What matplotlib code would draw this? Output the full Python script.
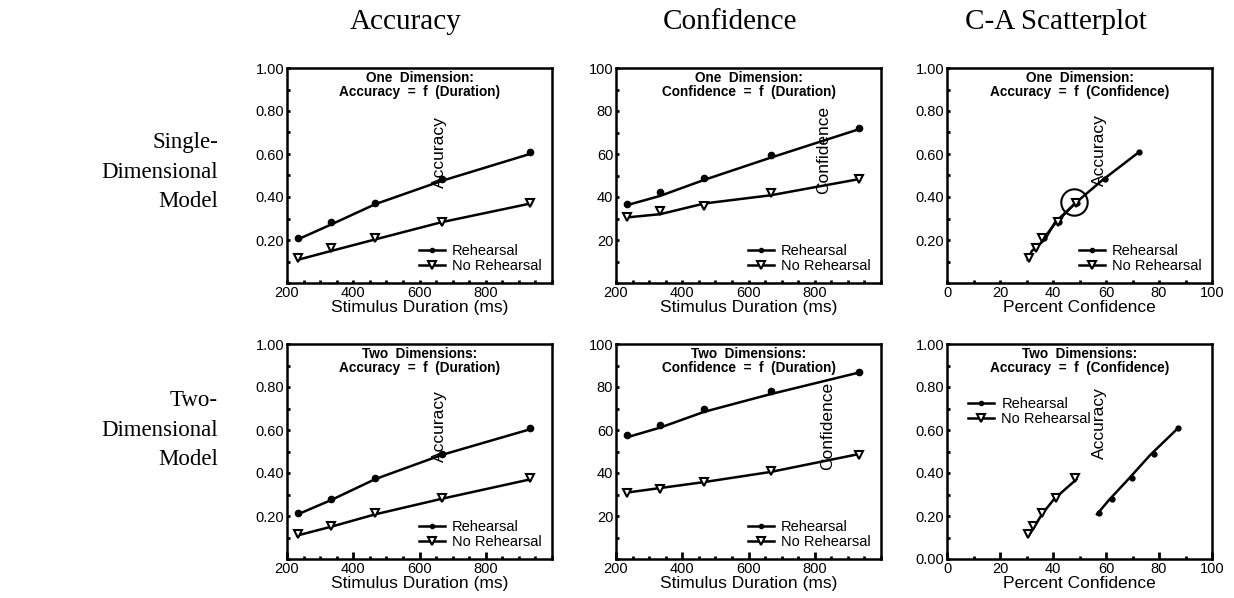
import numpy as np
import matplotlib.pyplot as plt
from matplotlib.ticker import MultipleLocator, FormatStrFormatter
from matplotlib.lines import Line2D

plt.rcParams['font.family'] = ['Liberation Sans', 'DejaVu Sans']

# stimulus durations (ms)
durations = [233, 333, 467, 667, 933]

# one-dimensional model
acc1_reh = [0.208, 0.285, 0.374, 0.485, 0.610]
acc1_reh_fit = [0.203, 0.272, 0.367, 0.475, 0.600]
acc1_noreh = [0.115, 0.165, 0.208, 0.285, 0.374]
acc1_noreh_fit = [0.108, 0.149, 0.203, 0.283, 0.369]
conf1_reh = [36.6, 42.3, 48.9, 59.5, 72.3]
conf1_reh_fit = [36.2, 40.5, 48.0, 58.3, 71.5]
conf1_noreh = [30.8, 33.5, 35.7, 42.0, 48.5]
conf1_noreh_fit = [30.5, 32.0, 37.0, 40.8, 48.3]

# two-dimensional model
acc2_reh = [0.215, 0.278, 0.375, 0.488, 0.611]
acc2_reh_fit = [0.208, 0.274, 0.372, 0.484, 0.603]
acc2_noreh = [0.115, 0.153, 0.212, 0.282, 0.375]
acc2_noreh_fit = [0.110, 0.150, 0.208, 0.280, 0.370]
conf2_reh = [57.5, 62.3, 69.9, 78.1, 87.1]
conf2_reh_fit = [56.6, 61.1, 68.5, 76.7, 86.7]
conf2_noreh = [30.5, 32.4, 36.0, 41.1, 48.4]
conf2_noreh_fit = [30.9, 33.0, 35.8, 40.5, 48.8]

# highlighted point in the one-dimension scatterplot
circle_xy = (48.0, 0.377)

col_titles = ['Accuracy', 'Confidence', 'C-A Scatterplot']
row_titles = ['Single-\nDimensional\nModel', 'Two-\nDimensional\nModel']
panel_titles = [['One  Dimension:\nAccuracy  =  f  (Duration)',
                 'One  Dimension:\nConfidence  =  f  (Duration)',
                 'One  Dimension:\nAccuracy  =  f  (Confidence)'],
                ['Two  Dimensions:\nAccuracy  =  f  (Duration)',
                 'Two  Dimensions:\nConfidence  =  f  (Duration)',
                 'Two  Dimensions:\nAccuracy  =  f  (Confidence)']]
labels = ['Rehearsal', 'No Rehearsal']

W, H = 1234, 598
fig = plt.figure(figsize=(W / 100, H / 100), dpi=100)

def add_ax(l, t, r, b):
    return fig.add_axes([l / W, 1 - b / H, (r - l) / W, (b - t) / H])

lefts = [287, 616, 947]
rows = [(68, 283), (344, 559)]

reh_style = dict(color='black', lw=1.8, marker='o', ms=3, mfc='black', mec='black')
noreh_style = dict(color='black', lw=1.8, marker='v', ms=6, mfc='white', mec='black', mew=1.5)
tri = dict(ls='none', marker='v', ms=6, mfc='white', mec='black', mew=1.5)

def style(ax, xkind, ykind, row, show_zero=False):
    for s in ax.spines.values():
        s.set_linewidth(1.8)
    if xkind == 'dur':
        ax.set_xlim(200, 1000)
        ax.set_xticks([200, 400, 600, 800])
        ax.xaxis.set_minor_locator(MultipleLocator(50))
        ax.set_xlabel('Stimulus Duration (ms)', fontsize=12.5, labelpad=0)
    else:
        ax.set_xlim(0, 100)
        ax.set_xticks([0, 20, 40, 60, 80, 100])
        ax.xaxis.set_minor_locator(MultipleLocator(10))
        ax.set_xlabel('Percent Confidence', fontsize=12.5, labelpad=0)
    if ykind == 'conf':
        ax.set_ylim(0, 100)
        ax.set_yticks([20, 40, 60, 80, 100])
        ax.yaxis.set_minor_locator(MultipleLocator(10))
    else:
        ax.set_ylim(0, 1)
        ax.set_yticks(([0.0] if show_zero else []) + [0.2, 0.4, 0.6, 0.8, 1.0])
        ax.yaxis.set_major_formatter(FormatStrFormatter('%.2f'))
        ax.yaxis.set_minor_locator(MultipleLocator(0.1))
    ax.tick_params(which='both', direction='in', width=2, labelsize=10.5, pad=2)
    ax.tick_params(axis='x', which='major', length=5 if row == 1 else 2.5)
    ax.tick_params(axis='x', which='minor', length=2)
    ax.tick_params(axis='y', which='both', length=2)

def legend(ax, **kw):
    h = [Line2D([], [], **reh_style), Line2D([], [], **noreh_style)]
    ax.legend(h, labels, frameon=False, fontsize=10.5, handlelength=1.8,
              handletextpad=0.5, labelspacing=0.05, borderpad=0.2, **kw)

data = [
    (acc1_reh, acc1_reh_fit, acc1_noreh, acc1_noreh_fit,
     conf1_reh, conf1_reh_fit, conf1_noreh, conf1_noreh_fit),
    (acc2_reh, acc2_reh_fit, acc2_noreh, acc2_noreh_fit,
     conf2_reh, conf2_reh_fit, conf2_noreh, conf2_noreh_fit),
]
inner_pos = [[(0.574, 0.61), (0.784, 0.62), (0.574, 0.62)],
             [(0.574, 0.62), (0.799, 0.62), (0.577, 0.63)]]

for r, (top, bot) in enumerate(rows):
    a_r, a_rf, a_n, a_nf, c_r, c_rf, c_n, c_nf = data[r]
    ax1 = add_ax(lefts[0], top, lefts[0] + 265, bot)
    ax1.plot(durations, a_rf, **dict(reh_style, marker=None))
    ax1.plot(durations, a_r, ls='none', marker='o', ms=4.5, color='black')
    ax1.plot(durations, a_nf, **dict(noreh_style, marker=None))
    ax1.plot(durations, a_n, **tri)
    style(ax1, 'dur', 'acc', r)
    legend(ax1, loc='lower right', bbox_to_anchor=(1.0, 0.0))

    ax2 = add_ax(lefts[1], top, lefts[1] + 265, bot)
    ax2.plot(durations, c_rf, **dict(reh_style, marker=None))
    ax2.plot(durations, c_r, ls='none', marker='o', ms=4.5, color='black')
    ax2.plot(durations, c_nf, **dict(noreh_style, marker=None))
    ax2.plot(durations, c_n, **tri)
    style(ax2, 'dur', 'conf', r)
    legend(ax2, loc='lower right', bbox_to_anchor=(1.0, 0.0))

    ax3 = add_ax(lefts[2], top, lefts[2] + 265, bot)
    ax3.plot(c_rf, a_rf, **dict(reh_style, marker=None))
    ax3.plot(c_r, a_r, ls='none', marker='o', ms=3.5, color='black')
    ax3.plot(c_nf, a_nf, **dict(noreh_style, marker=None))
    ax3.plot(c_n, a_n, **tri)
    style(ax3, 'pct', 'acc', r, show_zero=(r == 1))
    if r == 0:
        ax3.plot([circle_xy[0]], [circle_xy[1]], ls='none', marker='o', ms=19,
                 mfc='none', mec='black', mew=1.5)
        legend(ax3, loc='lower right', bbox_to_anchor=(1.0, 0.0))
    else:
        legend(ax3, loc='upper left', bbox_to_anchor=(0.04, 0.8))

    for ax, ttl, (px, py), lab in zip([ax1, ax2, ax3], panel_titles[r], inner_pos[r],
                                      ['Accuracy', 'Confidence', 'Accuracy']):
        ax.text(0.5, 0.985, ttl, transform=ax.transAxes, ha='center', va='top',
                fontsize=9.8, fontweight='bold', linespacing=1.0)
        ax.text(px, py, lab, transform=ax.transAxes, rotation=90, ha='center',
                va='center', fontsize=12.5)

# column and row headings
for x, t in zip([406, 730, 1056], col_titles):
    fig.text(x / W, 1 - 22 / H, t, ha='center', va='center', fontsize=21,
             family='Liberation Serif')
for y, t in zip([172, 430], row_titles):
    fig.text(218 / W, 1 - y / H, t, ha='right', va='center', fontsize=16.5,
             family='Liberation Serif', linespacing=1.55, multialignment='right')

plt.savefig('out.png', dpi=100)
